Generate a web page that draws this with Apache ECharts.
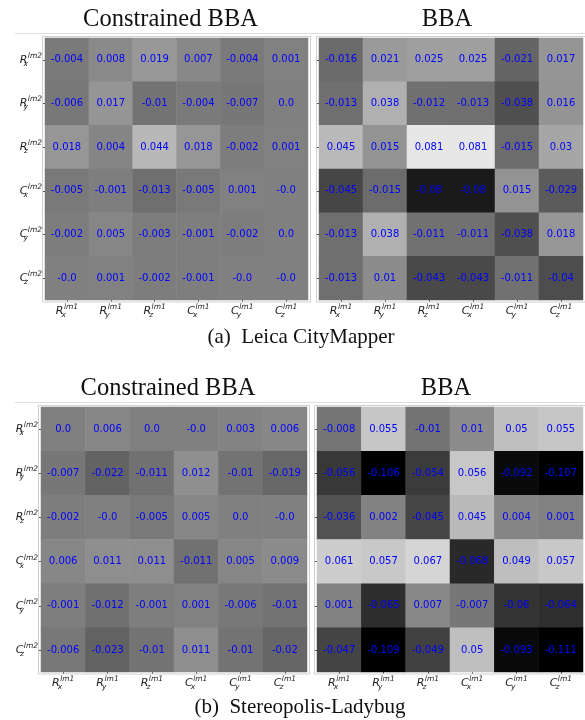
<!DOCTYPE html>
<html>
<head>
<meta charset="utf-8">
<script src="https://cdn.jsdelivr.net/npm/echarts@6/dist/echarts.min.js"></script>
<style>
  html, body { margin: 0; padding: 0; background: #fff; }
  #chart { width: 585px; height: 720px; }
</style>
</head>
<body>
<div id="chart"></div>
<script>
// Parameter keys: first letter is the symbol, second the axis subscript
const paramKeys = ['Rx', 'Ry', 'Rz', 'Cx', 'Cy', 'Cz'];

// Correlation between image-1 parameters (columns) and image-2 parameters (rows)
const leicaConstrained = [
  [-0.004, 0.008, 0.019, 0.007, -0.004, 0.001],
  [-0.006, 0.017, -0.01, -0.004, -0.007, 0.0],
  [0.018, 0.004, 0.044, 0.018, -0.002, 0.001],
  [-0.005, -0.001, -0.013, -0.005, 0.001, -0.0],
  [-0.002, 0.005, -0.003, -0.001, -0.002, 0.0],
  [-0.0, 0.001, -0.002, -0.001, -0.0, -0.0]
];
const leicaBBA = [
  [-0.016, 0.021, 0.025, 0.025, -0.021, 0.017],
  [-0.013, 0.038, -0.012, -0.013, -0.038, 0.016],
  [0.045, 0.015, 0.081, 0.081, -0.015, 0.03],
  [-0.045, -0.015, -0.08, -0.08, 0.015, -0.029],
  [-0.013, 0.038, -0.011, -0.011, -0.038, 0.018],
  [-0.013, 0.01, -0.043, -0.043, -0.011, -0.04]
];
const ladybugConstrained = [
  [0.0, 0.006, 0.0, -0.0, 0.003, 0.006],
  [-0.007, -0.022, -0.011, 0.012, -0.01, -0.019],
  [-0.002, -0.0, -0.005, 0.005, 0.0, -0.0],
  [0.006, 0.011, 0.011, -0.011, 0.005, 0.009],
  [-0.001, -0.012, -0.001, 0.001, -0.006, -0.01],
  [-0.006, -0.023, -0.01, 0.011, -0.01, -0.02]
];
const ladybugBBA = [
  [-0.008, 0.055, -0.01, 0.01, 0.05, 0.055],
  [-0.056, -0.106, -0.054, 0.056, -0.092, -0.107],
  [-0.036, 0.002, -0.045, 0.045, 0.004, 0.001],
  [0.061, 0.057, 0.067, -0.068, 0.049, 0.057],
  [0.001, -0.065, 0.007, -0.007, -0.06, -0.064],
  [-0.047, -0.109, -0.049, 0.05, -0.093, -0.111]
];

const panelTitles = ['Constrained BBA', 'BBA'];
const captions = ['(a)  Leica CityMapper', '(b)  Stereopolis-Ladybug'];

// shared grey scale
const vMin = -0.1, vMax = 0.1;

function grey(v) {
  const t = Math.min(1, Math.max(0, (v - vMin) / (vMax - vMin)));
  const g = Math.round(t * 255);
  return 'rgb(' + g + ',' + g + ',' + g + ')';
}

// Python-style rounding output: 0.0, -0.0, 0.03
function pyStr(v) {
  if (Object.is(v, -0)) return '-0.0';
  if (Number.isInteger(v)) return v.toFixed(1);
  return String(v);
}

const panels = [
  { values: leicaConstrained, box: { left: 45, top: 38, width: 263, height: 262 }, yLabels: true },
  { values: leicaBBA, box: { left: 319, top: 38, width: 264, height: 262 }, yLabels: false },
  { values: ladybugConstrained, box: { left: 41, top: 407, width: 266, height: 265 }, yLabels: true },
  { values: ladybugBBA, box: { left: 317, top: 407, width: 266, height: 265 }, yLabels: false }
];

const mathRich = {
  b: { fontFamily: 'DejaVu Sans', fontStyle: 'italic', fontSize: 11, color: '#222', lineHeight: 16, verticalAlign: 'middle' },
  sub: { fontFamily: 'DejaVu Sans', fontStyle: 'italic', fontSize: 7.5, color: '#222', lineHeight: 8, verticalAlign: 'bottom', width: 0.5 },
  sup: { fontFamily: 'DejaVu Sans', fontStyle: 'italic', fontSize: 7.5, color: '#222', lineHeight: 8, verticalAlign: 'top' }
};

function mathLabel(key, img) {
  return '{b|' + key[0] + '}{sub|' + key[1] + '}{sup|' + img + '}';
}

const grids = [], xAxes = [], yAxes = [], series = [], graphics = [];

panels.forEach(function (p, i) {
  grids.push(Object.assign({ containLabel: false }, p.box));
  xAxes.push({
    type: 'category', gridIndex: i, data: paramKeys, position: 'bottom',
    axisLine: { show: false },
    axisTick: { show: true, alignWithLabel: true, interval: 0, length: 2, lineStyle: { color: '#555' } },
    axisLabel: {
      interval: 0, hideOverlap: false, margin: 3,
      formatter: function (v) { return mathLabel(v, 'lm1'); }, rich: mathRich
    },
    splitLine: { show: false }
  });
  yAxes.push({
    type: 'category', gridIndex: i, data: paramKeys, inverse: true,
    axisLine: { show: false },
    axisTick: { show: true, alignWithLabel: true, interval: 0, length: 2, lineStyle: { color: '#555' } },
    axisLabel: {
      show: p.yLabels, interval: 0, hideOverlap: false, margin: 3,
      formatter: function (v) { return mathLabel(v, 'lm2'); }, rich: mathRich
    },
    splitLine: { show: false }
  });
  const cells = [];
  p.values.forEach(function (row, r) {
    row.forEach(function (v, c) {
      cells.push({ value: [c, r, v], itemStyle: { color: grey(v) } });
    });
  });
  series.push({
    type: 'heatmap', xAxisIndex: i, yAxisIndex: i, data: cells,
    itemStyle: { borderWidth: 0 },
    label: {
      show: true, color: '#0000ff', fontFamily: 'DejaVu Sans', fontSize: 10,
      formatter: function (d) { return pyStr(d.value[2]); }
    },
    emphasis: { disabled: true }
  });
  // light frame round each matrix
  graphics.push({
    type: 'rect', z: 10, silent: true,
    shape: { x: p.box.left - 2.5, y: p.box.top - 1.5, width: p.box.width + 5, height: p.box.height + 3.5 },
    style: { fill: 'none', stroke: '#cfcfcf', lineWidth: 1 }
  });
  graphics.push({
    type: 'text', z: 10, silent: true,
    x: p.box.left + p.box.width / 2 + (p.yLabels ? -6 : -4),
    y: p.box.top - 18,
    style: {
      text: panelTitles[i % 2], textAlign: 'center', textVerticalAlign: 'middle',
      font: '24.5px "Liberation Serif"', fill: '#111'
    }
  });
});

// separator lines under the titles
[33.5, 402.5].forEach(function (y) {
  graphics.push({
    type: 'line', silent: true,
    shape: { x1: 15, y1: y, x2: 585, y2: y },
    style: { stroke: '#dddddd', lineWidth: 1 }
  });
});

// sub-figure captions
[[301, 337], [300, 707]].forEach(function (pos, k) {
  graphics.push({
    type: 'text', silent: true, x: pos[0], y: pos[1],
    style: {
      text: captions[k], textAlign: 'center', textVerticalAlign: 'middle',
      font: '21px "Liberation Serif"', fill: '#111'
    }
  });
});

const chart = echarts.init(document.getElementById('chart'), null, { renderer: 'canvas' });
chart.setOption({
  animation: false,
  backgroundColor: '#fff',
  grid: grids,
  xAxis: xAxes,
  yAxis: yAxes,
  series: series,
  graphic: graphics
});
</script>
</body>
</html>
